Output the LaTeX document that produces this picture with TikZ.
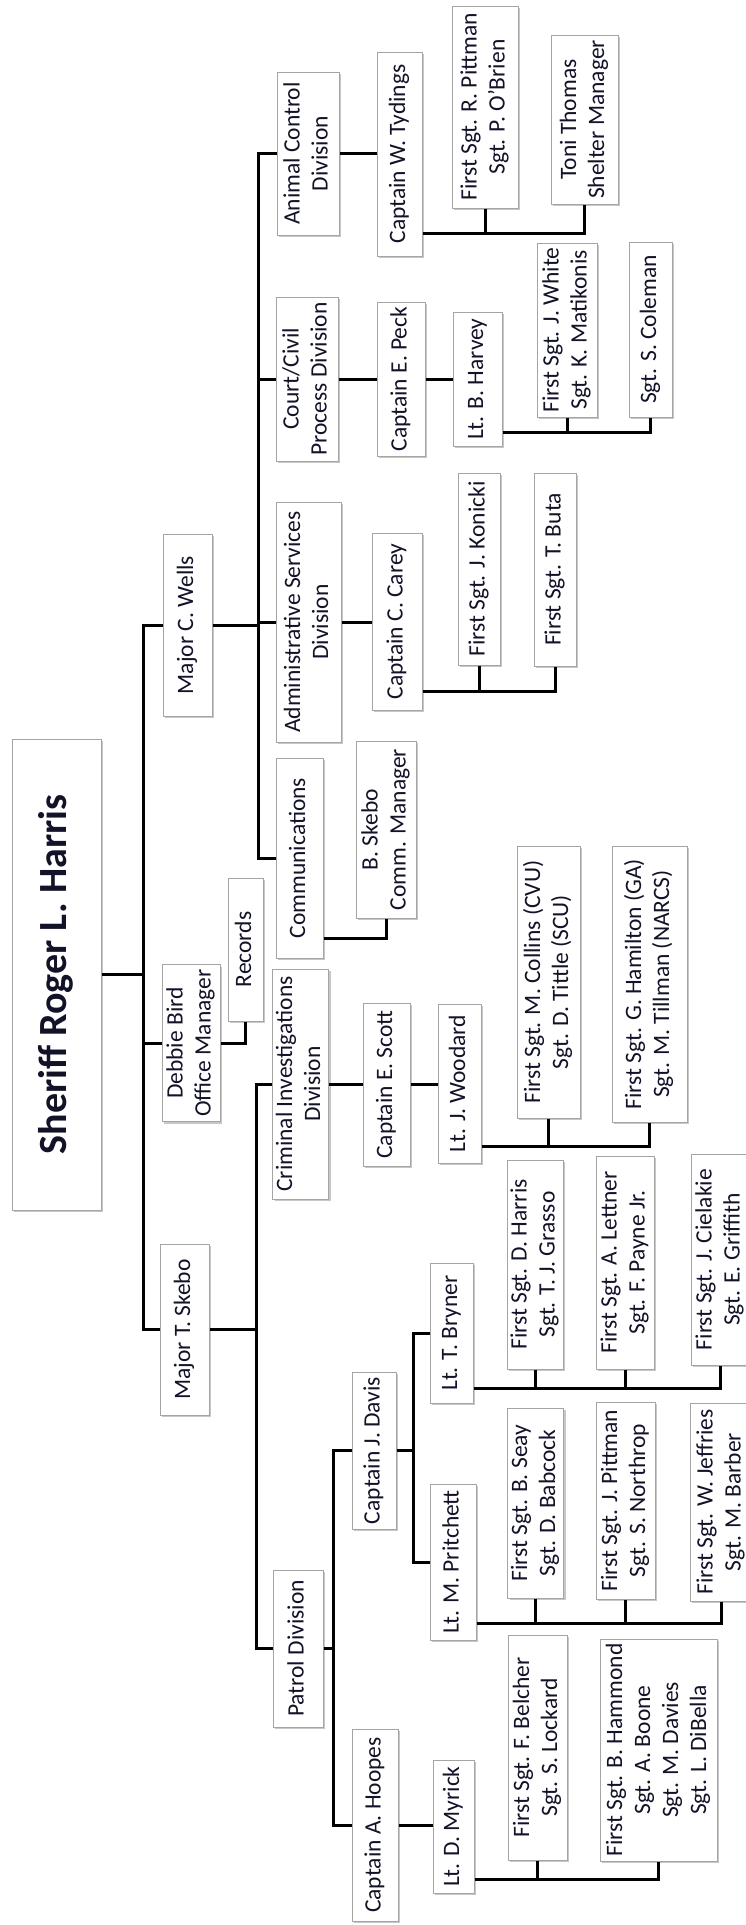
\documentclass[tikz,border=0pt]{standalone}
\usepackage{fontspec}
\setmainfont{Carlito}
\usepackage{graphicx}
\usetikzlibrary{shadows}
\definecolor{textc}{RGB}{18,18,40}
\definecolor{boxline}{RGB}{165,165,165}
\newcommand\rt[1]{\rotatebox{90}{\begin{tabular}{@{}c@{}}#1\end{tabular}}}
\newcommand\nb[6]{\node[orgbox,minimum width=#4pt,minimum height=#5pt] (#1) at (#2,#3) {\rt{#6}};}
\begin{document}
\begin{tikzpicture}[x=1pt,y=-1pt,
  orgbox/.style={draw=boxline,line width=1pt,fill=white,inner sep=0pt,
    text=textc,font=\fontsize{23.5}{28}\selectfont,
    drop shadow={shadow xshift=2pt,shadow yshift=-2pt,fill=black,opacity=0.22}},
  conn/.style={line width=3pt,black}]
\useasboundingbox (0,0) rectangle (745,1925);
% ---- nodes ----
\node[orgbox,minimum width=89pt,minimum height=471pt,font=\fontsize{40}{48}\selectfont\bfseries] (sheriff) at (56.5,974.5) {\rt{Sheriff Roger L. Harris}};
\nb{wells}{187.5}{625}{49}{182}{Major C. Wells}
\nb{debbie}{191}{1043}{58}{157}{Debbie Bird\\Office Manager}
\nb{records}{245.5}{949.5}{35}{143}{Records}
\nb{skebo}{184.5}{1329.5}{49}{171}{Major T. Skebo}
\nb{animal}{308}{153.5}{62}{163}{Animal Control\\Division}
\nb{court}{307}{379}{62}{164}{Court/Civil\\Process Division}
\nb{admin}{308.5}{622}{65}{240}{Administrative Services\\Division}
\nb{comms}{299.5}{858}{47}{200}{Communications}
\nb{bskebo}{386}{829.5}{60}{177}{B. Skebo\\Comm. Manager}
\nb{tydings}{399.5}{154}{45}{204}{Captain W. Tydings}
\nb{pittmanR}{485}{107}{66}{202}{First Sgt. R. Pittman\\Sgt. P. O'Brien}
\nb{toni}{584.5}{119.5}{67}{169}{Toni Thomas\\Shelter Manager}
\nb{peck}{401}{379}{48}{154}{Captain E. Peck}
\nb{harvey}{477.5}{379}{49}{134}{Lt. B. Harvey}
\nb{white}{567}{330}{60}{174}{First Sgt. J. White\\Sgt. K. Matikonis}
\nb{coleman}{650.5}{329.5}{43}{175}{Sgt. S. Coleman}
\nb{carey}{397}{621.5}{50}{177}{Captain C. Carey}
\nb{konicki}{479}{569}{42}{192}{First Sgt. J. Konicki}
\nb{buta}{555}{569.5}{42}{193}{First Sgt. T. Buta}
\nb{cid}{300.5}{1084}{55}{230}{Criminal Investigations\\Division}
\nb{scott}{386.5}{1084.5}{47}{163}{Captain E. Scott}
\nb{woodard}{459.5}{1083.5}{43}{159}{Lt. J. Woodard}
\nb{collins}{548.5}{982}{63}{272}{First Sgt. M. Collins (CVU)\\Sgt. D. Tittle (SCU)}
\nb{hamilton}{649.5}{984}{75}{276}{First Sgt. G. Hamilton (GA)\\Sgt. M. Tillman (NARCS)}
\nb{patrol}{298}{1648.5}{50}{157}{Patrol Division}
\nb{davis}{374}{1450.5}{44}{157}{Captain J. Davis}
\nb{hoopes}{375}{1825}{46}{192}{Captain A. Hoopes}
\nb{bryner}{451.5}{1333}{43}{140}{Lt. T. Bryner}
\nb{pritchett}{453}{1562}{46}{156}{Lt. M. Pritchett}
\nb{harris}{535}{1264.5}{54}{209}{First Sgt. D. Harris\\Sgt. T. J. Grasso}
\nb{lettner}{625}{1262.5}{58}{213}{First Sgt. A. Lettner\\Sgt. F. Payne Jr.}
\nb{cielakie}{720}{1259.5}{58}{211}{First Sgt. J. Cielakie\\Sgt. E. Griffith}
\nb{seay}{535.5}{1503}{55}{190}{First Sgt. B. Seay\\Sgt. D. Babcock}
\nb{pittmanJ}{625.5}{1500.5}{59}{197}{First Sgt. J. Pittman\\Sgt. S. Northrop}
\nb{jeffries}{721}{1502}{62}{198}{First Sgt. W. Jeffries\\Sgt. M. Barber}
\nb{myrick}{453.5}{1826.5}{41}{133}{Lt. D. Myrick}
\nb{belcher}{537.5}{1747.5}{59}{225}{First Sgt. F. Belcher\\Sgt. S. Lockard}
\nb{hammond}{658.5}{1750}{117}{222}{First Sgt. B. Hammond\\Sgt. A. Boone\\Sgt. M. Davies\\Sgt. L. DiBella}
% ---- bus coordinates ----
\coordinate (sb) at (143,0);
\coordinate (wb) at (258,0);
\coordinate (kb) at (256,0);
\coordinate (pb) at (333,0);
\coordinate (db) at (413,0);
% ---- connectors ----
\draw[conn] (sheriff.east) -- (sheriff.east -| sb);
\draw[conn] (wells.west) -- (wells.west -| sb) -- (skebo.west -| sb) -- (skebo.west);
\draw[conn] (debbie.west) -- (debbie.west -| sb);
\draw[conn] (debbie.east) -| (records.south);
% Wells
\draw[conn] (wells.east) -- (wells.east -| wb);
\draw[conn] (animal.west) -- (animal.west -| wb) -- (comms.west -| wb) -- (comms.west);
\draw[conn] (court.west) -- (court.west -| wb);
\draw[conn] (admin.west) -- (admin.west -| wb);
\draw[conn] (animal.east) -- (animal.east -| tydings.west);
\coordinate (tb) at ([yshift=23pt]tydings.south east);
\draw[conn] (tb) -| (toni.south);
\draw[conn] (pittmanR.south) -- (pittmanR.south |- tb);
\draw[conn] (court.east) -- (court.east -| peck.west);
\draw[conn] (peck.east) -- (peck.east -| harvey.west);
\coordinate (hb) at ([yshift=14pt]harvey.south east);
\draw[conn] (hb) -| (coleman.south);
\draw[conn] (white.south) -- (white.south |- hb);
\draw[conn] (admin.east) -- (admin.east -| carey.west);
\coordinate (cb) at ([yshift=19pt]carey.south east);
\draw[conn] (cb) -| (buta.south);
\draw[conn] (konicki.south) -- (konicki.south |- cb);
\coordinate (mb) at ([yshift=20pt]comms.south east);
\draw[conn] (mb) -| (bskebo.south);
% Skebo
\draw[conn] (skebo.east) -- (skebo.east -| kb);
\draw[conn] (cid.west) -- (cid.west -| kb) -- (patrol.west -| kb) -- (patrol.west);
\draw[conn] (cid.east) -- (cid.east -| scott.west);
\draw[conn] (scott.east) -- (scott.east -| woodard.west);
\coordinate (wob) at ([yshift=17pt]woodard.south east);
\draw[conn] (wob) -| (hamilton.south);
\draw[conn] (collins.south) -- (collins.south |- wob);
% Patrol
\draw[conn] (patrol.east) -- (patrol.east -| pb);
\draw[conn] (davis.west) -- (davis.west -| pb) -- (hoopes.west -| pb) -- (hoopes.west);
\draw[conn] (davis.east) -- (davis.east -| db);
\draw[conn] (bryner.west) -- (bryner.west -| db) -- (pritchett.west -| db) -- (pritchett.west);
\coordinate (brb) at ([yshift=15pt]bryner.south east);
\draw[conn] (brb) -| (cielakie.south);
\draw[conn] (harris.south) -- (harris.south |- brb);
\draw[conn] (lettner.south) -- (lettner.south |- brb);
\coordinate (prb) at ([yshift=17pt]pritchett.south east);
\draw[conn] (prb) -| (jeffries.south);
\draw[conn] (seay.south) -- (seay.south |- prb);
\draw[conn] (pittmanJ.south) -- (pittmanJ.south |- prb);
\draw[conn] (hoopes.east) -- (hoopes.east -| myrick.west);
\coordinate (myb) at ([yshift=14pt]myrick.south east);
\draw[conn] (myb) -| (hammond.south);
\draw[conn] (belcher.south) -- (belcher.south |- myb);
\end{tikzpicture}
\end{document}
